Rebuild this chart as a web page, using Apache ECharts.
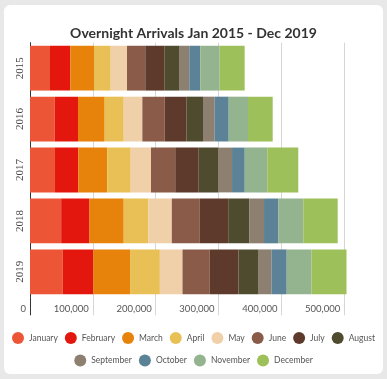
<!DOCTYPE html>
<html>
<head>
<meta charset="utf-8">
<script src="https://cdn.jsdelivr.net/npm/echarts@6/dist/echarts.min.js"></script>
<style>
html,body{margin:0;padding:0;background:#e8e8e8;}
#card{position:absolute;left:4px;top:5px;width:379px;height:369px;background:#fff;border-radius:6px;}
#chart{position:absolute;left:0;top:0;width:387px;height:379px;}
</style>
</head>
<body>
<div id="card"></div>
<div id="chart"></div>
<script>
const years = ['2015', '2016', '2017', '2018', '2019'];
const months = ['January', 'February', 'March', 'April', 'May', 'June', 'July', 'August', 'September', 'October', 'November', 'December'];
const colors = ['#ec5636', '#e4170f', '#e7820b', '#e8c056', '#efd0a9', '#8a5b49', '#5d3a2b', '#4f4b2e', '#8e8071', '#5b8296', '#94b48f', '#9ec05a'];
// arrivals per month, one array per month, values for 2015..2019
const January   = [31800, 39300, 39800, 49600, 52200];
const February  = [32300, 37100, 37000, 45100, 48500];
const March     = [37700, 42400, 46200, 54400, 58500];
const April     = [26600, 30300, 37200, 39400, 47400];
const May       = [25900, 29600, 32300, 37100, 36000];
const June      = [29100, 35600, 38600, 44500, 43400];
const July      = [30900, 34400, 37300, 45200, 45700];
const August    = [23800, 26500, 30700, 33900, 32100];
const September = [15300, 18600, 22300, 23100, 20400];
const October   = [17500, 22300, 20200, 23000, 24200];
const November  = [30900, 30700, 35900, 39500, 39400];
const December  = [39700, 39300, 49300, 54700, 55700];
const monthValues = [January, February, March, April, May, June, July, August, September, October, November, December];
const xTicks = [0, 100000, 200000, 300000, 400000, 500000];

const series = months.map((m, i) => ({
  name: m,
  type: 'bar',
  stack: 'total',
  barWidth: '88%',
  clip: false,
  itemStyle: { color: colors[i] },
  emphasis: { disabled: true },
  data: monthValues[i]
}));

const chart = echarts.init(document.getElementById('chart'), null, { renderer: 'canvas' });
const legendText = { fontFamily: 'Lato', fontSize: 8.5, color: '#555' };
const legendBase = {
  left: 'center', padding: 0,
  icon: 'circle', itemWidth: 12, itemHeight: 12, itemGap: 7,
  textStyle: legendText
};
chart.setOption({
  animation: false,
  backgroundColor: 'transparent',
  color: colors,
  title: {
    text: 'Overnight Arrivals Jan 2015 - Dec 2019',
    left: 'center',
    top: 21,
    textStyle: { fontFamily: 'Lato', fontWeight: 'bold', fontSize: 14, color: '#333' }
  },
  legend: [
    Object.assign({}, legendBase, { data: months.slice(0, 8), top: 332 }),
    Object.assign({}, legendBase, { data: months.slice(8), top: 354.5 })
  ],
  grid: { left: 30, right: 42.7, top: 42.7, bottom: 81.7, containLabel: false },
  xAxis: [
    {
      type: 'value', min: 0, max: 500000, interval: 100000,
      axisLine: { show: false },
      axisTick: { show: true, length: 18, lineStyle: { color: '#d6d6d6' } },
      splitLine: { show: true, lineStyle: { color: '#d6d6d6' } },
      axisLabel: {
        customValues: xTicks,
        align: 'right', margin: 7, padding: [0, 4, 0, 0],
        fontFamily: 'Lato', fontSize: 9.5, color: '#555',
        formatter: v => v.toLocaleString('en-US')
      }
    },
    {
      type: 'value', min: 0, max: 500000, position: 'bottom', z: 5,
      axisLine: { show: false },
      axisLabel: { show: false },
      splitLine: { show: false },
      axisTick: { show: true, customValues: [0], length: 18, lineStyle: { color: '#333' } }
    }
  ],
  yAxis: {
    type: 'category', data: years, inverse: true,
    axisLine: { show: true, lineStyle: { color: '#333' } },
    axisTick: { show: false },
    axisLabel: { rotate: 90, margin: 4, fontFamily: 'Liberation Serif', fontSize: 11, color: '#444' }
  },
  series: series
});
</script>
</body>
</html>
